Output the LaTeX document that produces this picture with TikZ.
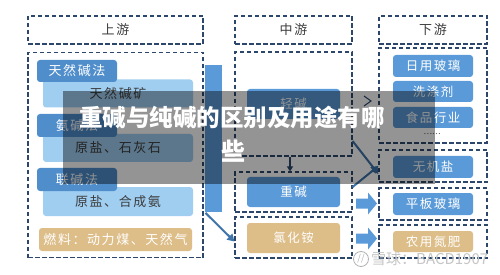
\documentclass[tikz,border=0pt]{standalone}
\usepackage{fontspec}
\setmainfont{Noto Sans CJK SC}
\newfontfamily\spc[LetterSpace=12]{Noto Sans CJK SC}
\usetikzlibrary{arrows.meta}
\definecolor{navy}{HTML}{2C476B}
\definecolor{tabblue}{HTML}{4F8DCB}
\definecolor{band}{HTML}{9FCEF1}
\definecolor{midblue}{HTML}{5A9AD8}
\definecolor{tanc}{HTML}{DDBD88}
\definecolor{txt}{HTML}{3C3C3C}
\definecolor{arrblue}{HTML}{3F75AA}
\tikzset{
  dbox/.style={draw=navy, line width=1.2pt, dash pattern=on 4.5pt off 2.5pt, inner sep=0pt},
  hdr/.style={dbox, text=txt, font=\spc\fontsize{13}{13}\selectfont},
  tabbox/.style={fill=tabblue, rounded corners=3pt, text=white, inner sep=0pt, font=\spc\fontsize{13}{13}\selectfont},
  bandbox/.style={fill=band, rounded corners=3pt, text=txt, inner sep=0pt, font=\spc\fontsize{13}{13}\selectfont},
  ibox/.style={fill=midblue, rounded corners=3pt, text=white, inner sep=0pt, font=\spc\fontsize{12.5}{12.5}\selectfont},
  tanbox/.style={fill=tanc, rounded corners=3pt, text=white, inner sep=0pt, font=\spc\fontsize{12.5}{12.5}\selectfont},
  thinarr/.style={draw=navy, line width=1.2pt, -{Triangle[length=5pt,width=6pt]}},
  diagarr/.style={draw=arrblue, line width=2pt, -{Triangle[length=7pt,width=8pt]}},
  fatarr/.style={fill=midblue}
}
\begin{document}
\begin{tikzpicture}[x=1pt,y=-1pt]
\useasboundingbox (0,0) rectangle (500,275);
\fill[white] (0,0) rectangle (500,275);

% ---------- upstream ----------
\node[hdr, minimum width=175pt, minimum height=28pt] (hdrL) at (115.5,30) {上游};
\node[dbox, minimum width=175pt, minimum height=205pt] (boxL) at (115.5,155) {};
\node[bandbox, minimum width=150pt, minimum height=28pt] (band1) at (118,93.5) {天然碱矿};
\node[tabbox, minimum width=80pt, minimum height=22pt] (tab1) at (77,71) {天然碱法};
\node[bandbox, minimum width=150pt, minimum height=28pt] (band2) at (118,148) {原盐、石灰石};
\node[tabbox, minimum width=80pt, minimum height=23pt] (tab2) at (77,125.5) {氨碱法};
\node[bandbox, minimum width=150pt, minimum height=29pt] (band3) at (118,201.5) {原盐、合成氨};
\node[tabbox, minimum width=80pt, minimum height=23pt] (tab3) at (77,179.5) {联碱法};
\node[tanbox, minimum width=153pt, minimum height=23pt, font=\spc\fontsize{13}{13}\selectfont] (fuel) at (115.5,239.5) {燃料：动力煤、天然气};

% ---------- bar ----------
\node[fill=midblue, minimum width=17pt, minimum height=147pt, inner sep=0pt] (bar) at (213.5,138.5) {};

% ---------- midstream ----------
\node[hdr, minimum width=117pt, minimum height=28pt] (hdrM) at (293.5,30) {中游};
\node[dbox, minimum width=117pt, minimum height=104pt] (boxM1) at (293.5,104) {};
\node[ibox, minimum width=93pt, minimum height=30pt] (light) at (293.5,104) {轻碱};
\node[dbox, minimum width=117pt, minimum height=40pt] (boxM2) at (293.5,192) {};
\node[ibox, minimum width=93pt, minimum height=30pt] (heavy) at (293.5,192) {重碱};
\node[dbox, minimum width=117pt, minimum height=41pt] (boxM3) at (293.5,237.5) {};
\node[tanbox, minimum width=93pt, minimum height=30pt] (nh4cl) at (293.5,238) {氯化铵};

% ---------- downstream ----------
\node[hdr, minimum width=108pt, minimum height=28pt] (hdrR) at (433,30) {下游};
\node[dbox, minimum width=108pt, minimum height=95pt] (boxR1) at (433,95.5) {};
\node[ibox, minimum width=80pt, minimum height=22pt] (r11) at (433,66) {日用玻璃};
\node[ibox, minimum width=80pt, minimum height=21pt] (r12) at (433,91.5) {洗涤剂};
\node[ibox, minimum width=80pt, minimum height=21pt] (r13) at (433,117.5) {食品行业};
\node[text=txt, font=\fontsize{8}{8}\selectfont, inner sep=0pt] (dots) at (432,134) {……};
\node[dbox, minimum width=108pt, minimum height=32pt] (boxR2) at (433,166) {};
\node[ibox, minimum width=80pt, minimum height=22pt] (r2) at (433,167) {无机盐};
\node[dbox, minimum width=108pt, minimum height=32pt] (boxR3) at (433,204) {};
\node[ibox, minimum width=80pt, minimum height=22pt] (r3) at (433,204) {平板玻璃};
\node[dbox, minimum width=108pt, minimum height=33pt] (boxR4) at (433,241.5) {};
\node[tanbox, minimum width=80pt, minimum height=21pt] (r4) at (433,241.5) {农用氮肥};

% ---------- connectors ----------
\draw[thinarr] (boxM1.south -| 290,0) -- (boxM2.north -| 290,0);
\draw[diagarr, shorten <=1pt] (bar.south west) -- ([yshift=-4pt]boxM3.west);
\draw[diagarr] ([yshift=-37pt]boxM1.east) -- ([yshift=-8pt]boxR2.west);
\draw[diagarr] ([yshift=5pt]boxM2.east) -- ([yshift=0pt]boxR2.west);
\draw[navy, line width=1pt] (364,96) -- (371,101) -- (364,106);
% fat arrows
\fill[fatarr] (356,198.5) -- (368,198.5) -- (368,192.5) -- (377,203.5) -- (368,214.5) -- (368,208.5) -- (356,208.5) -- cycle;
\fill[fatarr] (356,233.5) -- (368,233.5) -- (368,227.5) -- (377,238.5) -- (368,249.5) -- (368,243.5) -- (356,243.5) -- cycle;

% ---------- overlay ----------
\fill[black, opacity=0.42] (63,91) rectangle (435,184);
\node[text=white, font=\bfseries\fontsize{23.5}{23.5}\selectfont, inner sep=0pt] (title1) at (232,117.5) {重碱与纯碱的区别及用途有哪};
\node[text=white, font=\bfseries\fontsize{24}{24}\selectfont, inner sep=0pt] (title2) at (233,151.5) {些};

% ---------- watermark ----------
\node[draw=gray!60, line width=0.8pt, circle, minimum size=15pt, inner sep=0pt, text=gray!60, font=\fontsize{9}{9}\selectfont] (logo) at (361,259) {//};
\node[anchor=west, text=gray!45, font=\fontsize{15}{15}\selectfont, inner sep=0pt] (wm) at (371,259) {雪球：BACD1907};
\end{tikzpicture}
\end{document}
